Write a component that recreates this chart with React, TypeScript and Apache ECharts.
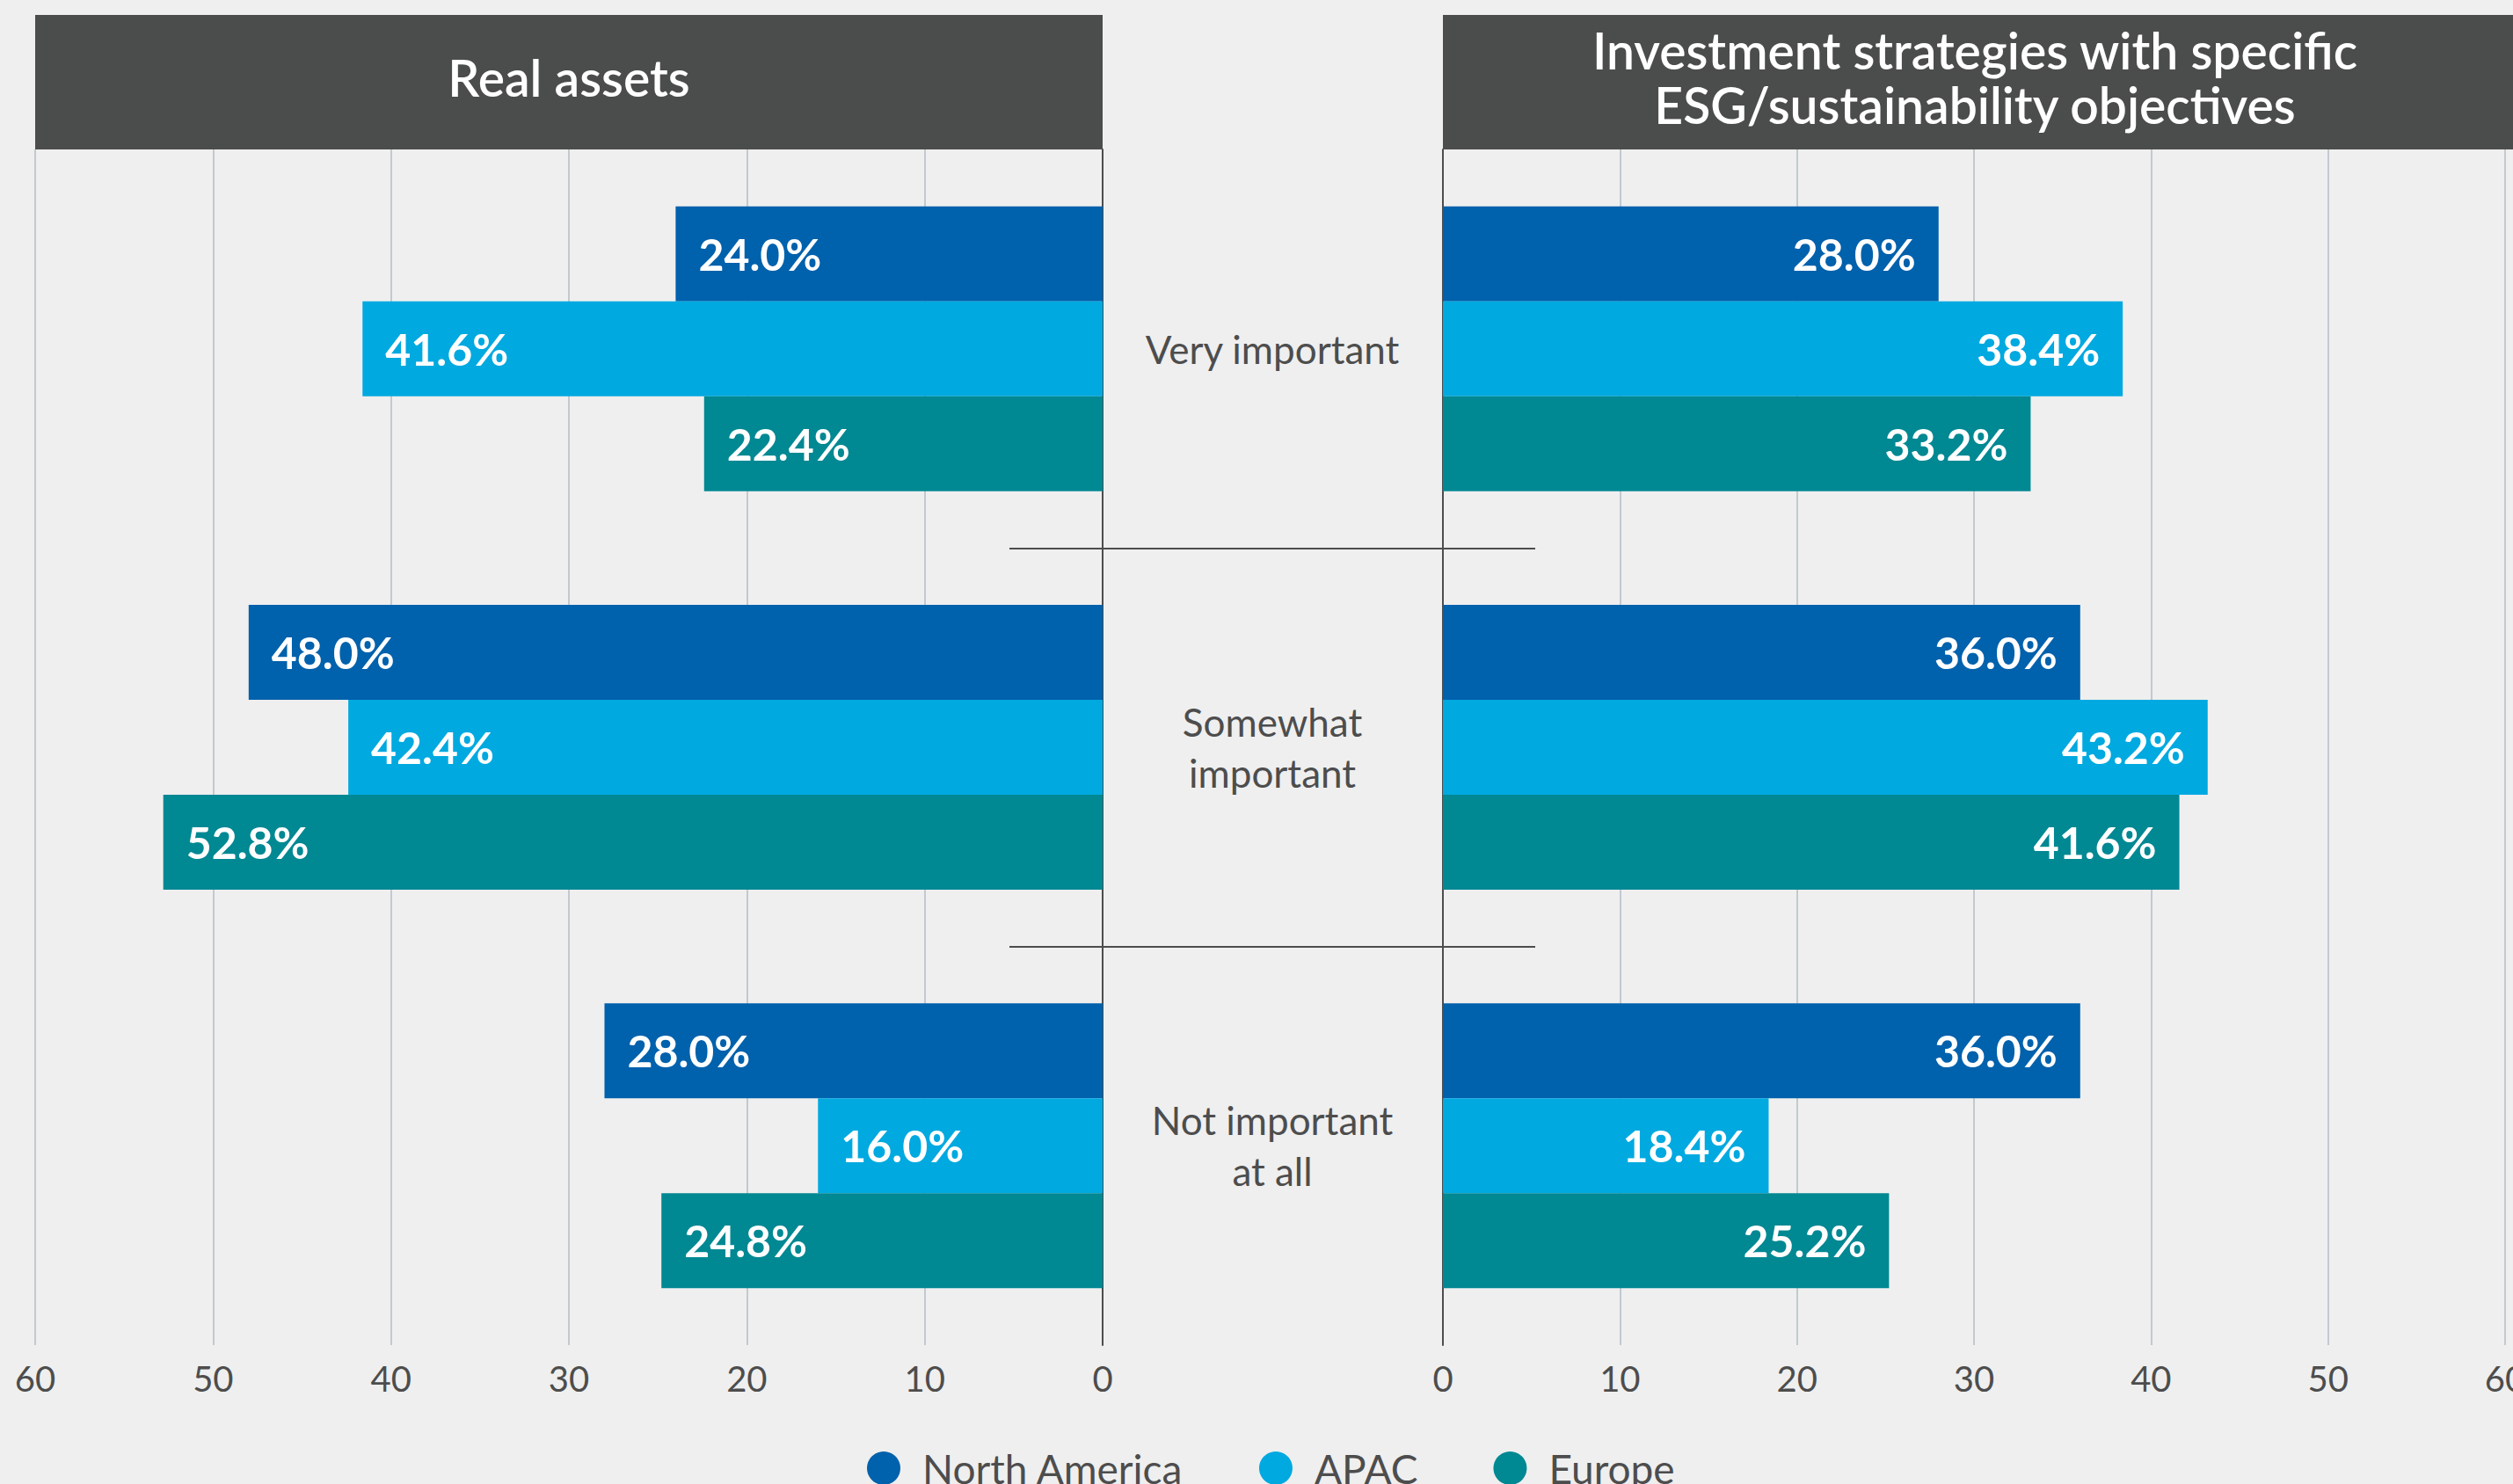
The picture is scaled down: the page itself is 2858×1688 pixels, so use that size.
import { useEffect, useRef } from "react";
import * as echarts from "echarts";

const categories = ["Very important", "Somewhat\nimportant", "Not important\nat all"];
const regions = ["North America", "APAC", "Europe"];
const regionColors = ["#0061ac", "#00a9e0", "#008893"];

const realAssetsNorthAmerica = [24.0, 48.0, 28.0];
const realAssetsAPAC = [41.6, 42.4, 16.0];
const realAssetsEurope = [22.4, 52.8, 24.8];

const esgNorthAmerica = [28.0, 36.0, 36.0];
const esgAPAC = [38.4, 43.2, 18.4];
const esgEurope = [33.2, 41.6, 25.2];

const panelTitles = ["Real assets", "Investment strategies with specific\nESG/sustainability objectives"];
const axisMin = 0;
const axisMax = 60;
const axisStep = 10;
const separatorPositions = [1, 2];

const FONT = "Lato, 'Open Sans', 'Noto Sans', sans-serif";
const TEXT_COLOR = "#4d4d4d";
const HEADER_COLOR = "#4b4d4c";

export default function App() {
  const ref = useRef<HTMLDivElement>(null);

  useEffect(() => {
    if (!ref.current) return;
    const chart = echarts.init(ref.current, null, { renderer: "svg" });

    const leftData = [realAssetsNorthAmerica, realAssetsAPAC, realAssetsEurope];
    const rightData = [esgNorthAmerica, esgAPAC, esgEurope];

    const barSeries = (data: number[], idx: number, panel: number) => ({
      type: "bar",
      name: regions[idx],
      xAxisIndex: panel,
      yAxisIndex: panel,
      data,
      barWidth: 108,
      barGap: "0%",
      itemStyle: { color: regionColors[idx] },
      label: {
        show: true,
        position: panel === 0 ? "insideLeft" : "insideRight",
        distance: 26,
        color: "#ffffff",
        fontFamily: FONT,
        fontWeight: "bold",
        fontSize: 50,
        formatter: (p: any) => Number(p.value).toFixed(1) + "%",
      },
    });

    const valueAxis = (panel: number) => ({
      type: "value",
      gridIndex: panel,
      min: axisMin,
      max: axisMax,
      interval: axisStep,
      inverse: panel === 0,
      axisLine: { show: false },
      axisTick: { show: false },
      splitLine: { show: true, lineStyle: { color: "#b3bdc7", width: 1.5 } },
      axisLabel: { color: TEXT_COLOR, fontSize: 40, fontFamily: FONT, margin: 18 },
    });

    const option: any = {
      animation: false,
      backgroundColor: "#efefef",
      grid: [
        { left: 40, top: 170, width: 1214, height: 1360, outerBoundsMode: "none" },
        { left: 1641, top: 170, width: 1208, height: 1360, outerBoundsMode: "none" },
        { left: 1148, top: 170, width: 598, height: 1360, outerBoundsMode: "none" },
      ],
      xAxis: [
        valueAxis(0),
        valueAxis(1),
        { type: "value", gridIndex: 2, min: 0, max: 1, show: false },
      ],
      yAxis: [
        {
          type: "category",
          gridIndex: 0,
          data: categories,
          inverse: true,
          position: "right",
          axisLine: { show: true, lineStyle: { color: TEXT_COLOR, width: 2 } },
          axisTick: { show: false },
          splitLine: { show: false },
          axisLabel: {
            show: true,
            margin: 193,
            align: "center",
            color: TEXT_COLOR,
            fontSize: 44,
            lineHeight: 58,
            fontFamily: FONT,
            padding: [0, 0, 8, 0],
          },
        },
        {
          type: "category",
          gridIndex: 1,
          data: categories,
          inverse: true,
          position: "left",
          axisLine: { show: true, lineStyle: { color: TEXT_COLOR, width: 2 } },
          axisTick: { show: false },
          splitLine: { show: false },
          axisLabel: { show: false },
        },
        {
          type: "value",
          gridIndex: 2,
          min: 0,
          max: categories.length,
          inverse: true,
          show: false,
        },
      ],
      legend: {
        data: regions,
        left: 981,
        top: 1642,
        icon: "circle",
        itemWidth: 38,
        itemHeight: 38,
        itemGap: 86,
        textStyle: {
          color: TEXT_COLOR,
          fontSize: 46,
          fontFamily: FONT,
          padding: [0, 0, 0, 20],
        },
      },
      graphic: [
        {
          type: "rect",
          shape: { x: 40, y: 17, width: 1214, height: 153 },
          style: { fill: HEADER_COLOR },
          z: 10,
        },
        {
          type: "text",
          x: 647,
          y: 88,
          z: 11,
          style: {
            text: panelTitles[0],
            fill: "#ffffff",
            fontSize: 57,
            fontWeight: 600,
            fontFamily: FONT,
            align: "center",
            verticalAlign: "middle",
          },
        },
        {
          type: "rect",
          shape: { x: 1641, y: 17, width: 1217, height: 153 },
          style: { fill: HEADER_COLOR },
          z: 10,
        },
        {
          type: "text",
          x: 2246,
          y: 88,
          z: 11,
          style: {
            text: panelTitles[1],
            fill: "#ffffff",
            fontSize: 57,
            fontWeight: 600,
            fontFamily: FONT,
            lineHeight: 62,
            align: "center",
            verticalAlign: "middle",
          },
        },
      ],
      series: [
        ...leftData.map((d, i) => barSeries(d, i, 0)),
        ...rightData.map((d, i) => barSeries(d, i, 1)),
        {
          type: "line",
          name: "separators",
          xAxisIndex: 2,
          yAxisIndex: 2,
          data: [],
          silent: true,
          markLine: {
            silent: true,
            symbol: "none",
            label: { show: false },
            lineStyle: { color: TEXT_COLOR, width: 2, type: "solid" },
            data: separatorPositions.map((v) => ({ yAxis: v })),
          },
        },
      ],
    };

    chart.setOption(option);
    return () => chart.dispose();
  }, []);

  return (
    <div
      ref={ref}
      style={{ position: "absolute", left: 0, top: 0, width: 2858, height: 1688 }}
    />
  );
}
